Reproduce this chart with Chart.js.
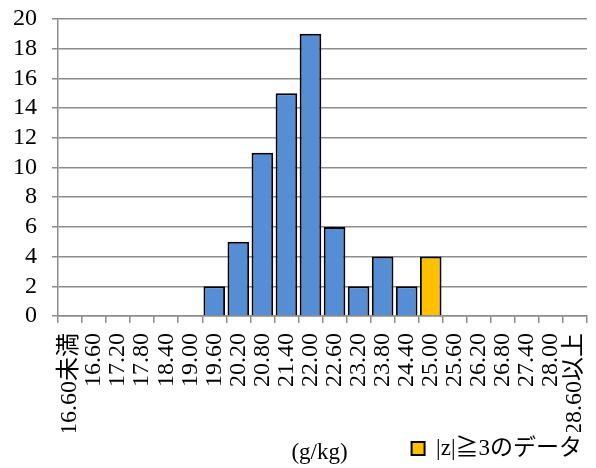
<!DOCTYPE html>
<html>
<head>
<meta charset="utf-8">
<script src="https://cdn.jsdelivr.net/npm/chart.js@4/dist/chart.umd.min.js"></script>
<style>
  html, body { margin: 0; padding: 0; background: #fff; }
  #wrap { width: 596px; height: 468px; }
</style>
</head>
<body>
<div id="wrap"><canvas id="hist"></canvas></div>
<script>
const categories = ['16.60未満', '16.60', '17.20', '17.80', '18.40', '19.00', '19.60', '20.20', '20.80', '21.40', '22.00',
  '22.60', '23.20', '23.80', '24.40', '25.00', '25.60', '26.20', '26.80', '27.40', '28.00', '28.60以上'];
const counts = [null, null, null, null, null, null, 2, 5, 11, 15, 19, 6, 2, 4, 2, null, null, null, null, null, null, null];
const outliers = [null, null, null, null, null, null, null, null, null, null, null, null, null, null, null, 4, null, null, null, null, null, null];
const yMax = 20;
const yStep = 2;
const unitLabel = '(g/kg)';
const outlierLabel = '|z|≧3のデータ';

const gridGray = '#8c8c8c';
const fontFam = '"Liberation Serif", "Noto Sans CJK JP", serif';

// x軸の単位を凡例と同じ行に描く
const unitPlugin = {
  id: 'unitText',
  afterDraw(chart) {
    const c = chart.ctx;
    const lg = chart.legend;
    const area = chart.chartArea;
    c.save();
    c.font = '23px ' + fontFam;
    c.fillStyle = '#000';
    c.textAlign = 'center';
    c.textBaseline = 'middle';
    c.fillText(unitLabel, (area.left + area.right) / 2 - 3, lg.top + lg.height / 2 + 2);
    c.restore();
  }
};

const ctx = document.getElementById('hist').getContext('2d');

const grafico = new Chart(ctx, {
  type: 'bar',
  data: {
    labels: categories,
    datasets: [{
      label: '度数',
      data: counts,
      backgroundColor: '#558ed5',
      borderColor: '#000',
      borderWidth: 2,
      barPercentage: 0.9,
      categoryPercentage: 1.0,
      grouped: false
    }, {
      label: outlierLabel,
      data: outliers,
      backgroundColor: '#ffc000',
      borderColor: '#000',
      borderWidth: 2,
      barPercentage: 0.9,
      categoryPercentage: 1.0,
      grouped: false
    }]
  },
  options: {
    responsive: true,
    maintainAspectRatio: false,
    animation: false,
    layout: { padding: { top: 0, right: 9, left: 0, bottom: -2 } },
    scales: {
      x: {
        offset: true,
        afterFit: (s) => { s.height = 116; s.paddingRight = 0; s.paddingLeft = 0; },
        grid: {
          offset: true,
          drawOnChartArea: false,
          drawTicks: true,
          tickLength: 7,
          color: gridGray,
          lineWidth: 1.5
        },
        border: { color: gridGray, width: 1.5 },
        ticks: {
          color: '#000',
          autoSkip: false,
          minRotation: 90,
          maxRotation: 90,
          padding: 10,
          font: { size: 24, family: fontFam }
        }
      },
      y: {
        min: 0,
        max: yMax,
        afterFit: (s) => { s.width = 58; s.paddingTop = 19; s.paddingBottom = 0; },
        grid: {
          color: gridGray,
          lineWidth: 1.5,
          drawTicks: true,
          tickLength: 6
        },
        border: { color: gridGray, width: 1.5 },
        ticks: {
          stepSize: yStep,
          autoSkip: false,
          color: '#000',
          padding: 15,
          font: { size: 24, family: fontFam }
        }
      }
    },
    plugins: {
      legend: {
        position: 'bottom',
        align: 'end',
        labels: {
          filter: (item) => item.text === outlierLabel,
          color: '#000',
          boxWidth: 13,
          boxHeight: 13,
          padding: 5,
          font: { size: 23, family: fontFam }
        }
      },
      tooltip: { enabled: false }
    }
  },
  plugins: [unitPlugin]
});
</script>
</body>
</html>
